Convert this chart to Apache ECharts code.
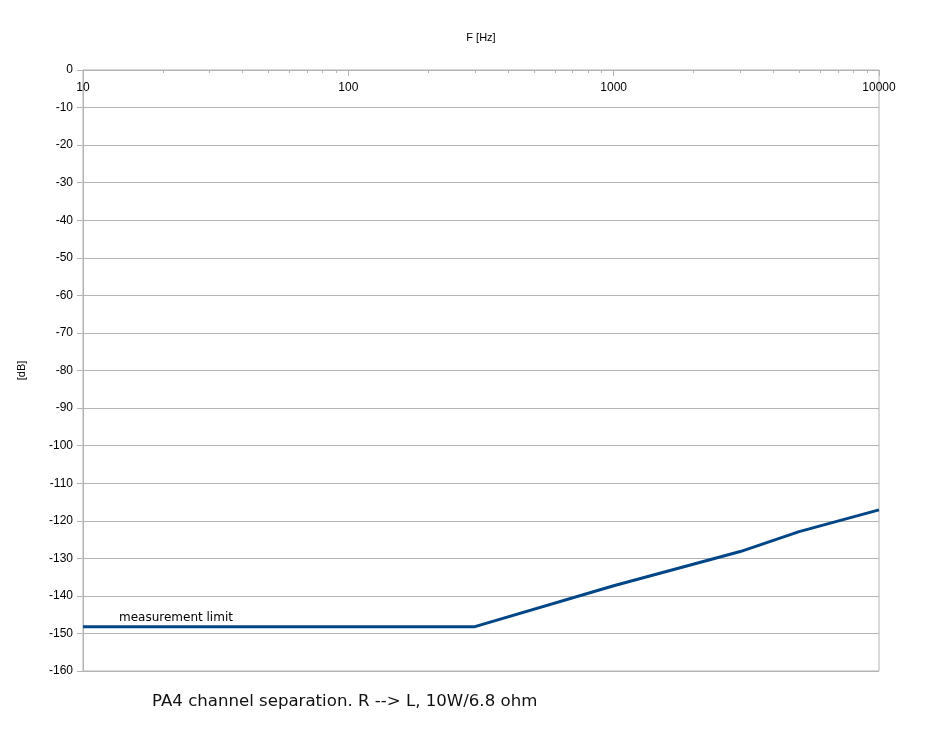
<!DOCTYPE html>
<html>
<head>
<meta charset="utf-8">
<script src="https://cdn.jsdelivr.net/npm/echarts@6/dist/echarts.min.js"></script>
<style>html,body{margin:0;padding:0;background:#fff}#c{width:928px;height:738px}</style>
</head>
<body>
<div id="c"></div>
<script>
const freqs = [10, 300, 1000, 3000, 5000, 10000];
const separation = [-148.2, -148.2, -137.3, -128.2, -122.9, -117.1];
const minorTickFreqs = [20, 30, 40, 50, 60, 70, 80, 90, 200, 300, 400, 500, 600, 700, 800, 900, 2000, 3000, 4000, 5000, 6000, 7000, 8000, 9000];
const limitLabel = 'measurement limit';
const titleText = 'PA4 channel separation. R --> L, 10W/6.8 ohm';
const xName = 'F [Hz]';
const yName = '[dB]';

const chart = echarts.init(document.getElementById('c'), null, {renderer: 'canvas'});
const grey = '#b3b3b3';
const fontFam = 'Liberation Sans, Arial, sans-serif';

const lineData = freqs.map((f, i) => {
  const item = {value: [f, separation[i]]};
  if (i === 0) {
    item.label = {
      show: true, formatter: limitLabel, position: 'top', align: 'left',
      offset: [36, 0], distance: 3, color: '#000', fontSize: 12, fontFamily: 'DejaVu Sans'
    };
  }
  return item;
});

chart.setOption({
  animation: false,
  title: {
    text: titleText, left: 147, top: 688,
    textStyle: {fontFamily: 'DejaVu Sans', fontSize: 16.6, fontWeight: 'normal', color: '#111'}
  },
  grid: {left: 83, right: 49, top: 70, bottom: 67, show: true, borderColor: grey, borderWidth: 1, backgroundColor: 'transparent'},
  xAxis: [{
    type: 'log', logBase: 10, min: 10, max: 10000, position: 'top',
    name: xName, nameLocation: 'middle', nameGap: 27,
    nameTextStyle: {fontFamily: fontFam, fontSize: 11, color: '#000'},
    axisLine: {show: true, lineStyle: {color: grey}},
    axisTick: {show: true, inside: true, length: 6, lineStyle: {color: grey}},
    axisLabel: {inside: true, margin: 12, fontFamily: fontFam, fontSize: 12, color: '#000',
      formatter: v => String(Math.round(v))},
    splitLine: {show: false}
  }, {
    type: 'log', logBase: 10, min: 10, max: 10000, position: 'top',
    axisLine: {show: false},
    axisTick: {show: true, inside: true, length: 3, customValues: minorTickFreqs, lineStyle: {color: grey}},
    axisLabel: {show: false},
    splitLine: {show: false}
  }],
  yAxis: {
    type: 'value', min: -160, max: 0, interval: 10,
    name: yName, nameLocation: 'middle', nameGap: 56,
    nameTextStyle: {fontFamily: fontFam, fontSize: 11, color: '#000'},
    axisLine: {show: true, lineStyle: {color: grey}},
    axisTick: {show: true, length: 6, lineStyle: {color: grey}},
    axisLabel: {margin: 10, fontFamily: fontFam, fontSize: 12, color: '#000'},
    splitLine: {show: true, lineStyle: {color: grey, width: 1}}
  },
  series: [{
    type: 'line', xAxisIndex: 0, data: lineData, symbol: 'circle', symbolSize: 0, showSymbol: true,
    lineStyle: {color: '#004586', width: 3}, itemStyle: {color: '#004586'}, clip: false
  }]
});
</script>
</body>
</html>
